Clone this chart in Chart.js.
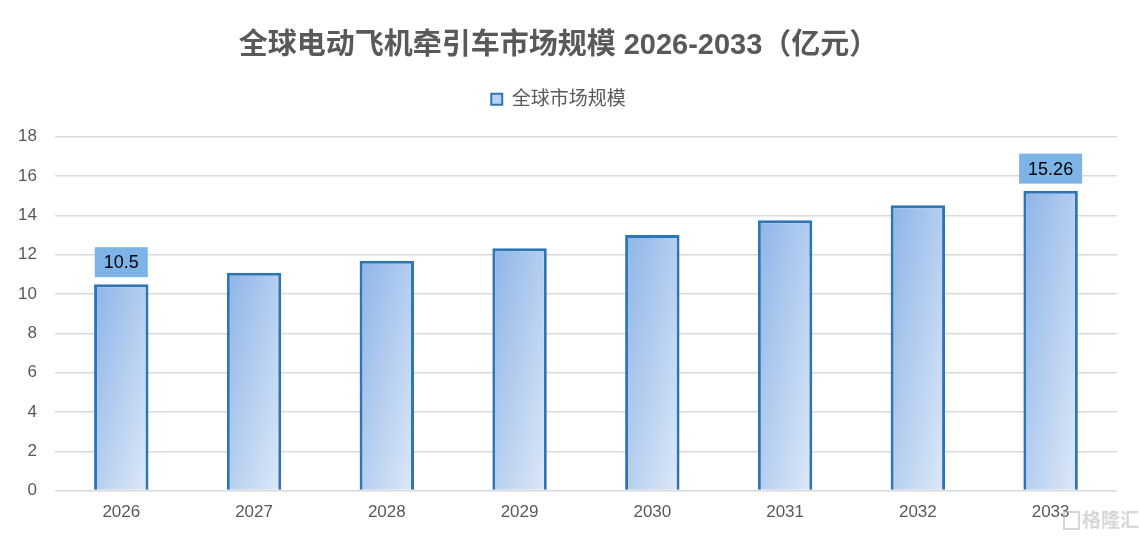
<!DOCTYPE html>
<html>
<head>
<meta charset="utf-8">
<script src="https://cdn.jsdelivr.net/npm/chart.js@4/dist/chart.umd.min.js"></script>
<style>
  html, body { margin: 0; padding: 0; background: #fff; }
  #wrap { width: 1139px; height: 536px; }
</style>
</head>
<body>
<div id="wrap"><canvas id="grafico"></canvas></div>
<script>
const anos = ['2026', '2027', '2028', '2029', '2030', '2031', '2032', '2033'];
const valores = [10.5, 11.08, 11.69, 12.33, 13.01, 13.76, 14.52, 15.26];
const rotulosVisiveis = [0, 7]; // só o primeiro e o último têm rótulo
const titulo = '全球电动飞机牵引车市场规模 2026-2033（亿元）';
const serie = '全球市场规模';

const fonte = "'Liberation Sans', 'Noto Sans CJK SC', sans-serif";

// gradiente diagonal "estilo Excel": isolinhas paralelas à anti-diagonal da barra
function gradienteBarra(context) {
    const chart = context.chart;
    if (!chart.chartArea || context.dataIndex === undefined) return '#A9C7EE';
    const xs = chart.scales.x, ys = chart.scales.y;
    const cx = xs.getPixelForValue(context.dataIndex);
    const larg = xs.getPixelForValue(1) - xs.getPixelForValue(0);
    const w = larg * 0.41;
    const topo = ys.getPixelForValue(valores[context.dataIndex]);
    const h = ys.getPixelForValue(0) - topo;
    const esq = cx - w / 2;
    const k = 2 * w * h / (h * h + w * w);
    const g = chart.ctx.createLinearGradient(esq, topo, esq + h * k, topo + w * k);
    g.addColorStop(0, '#8DB4E8');
    g.addColorStop(1, '#DDE9F8');
    return g;
}

// espaço extra abaixo da legenda
const espacoLegenda = {
    id: 'espacoLegenda',
    beforeInit(chart) {
        const fitOriginal = chart.legend.fit;
        chart.legend.fit = function() {
            fitOriginal.bind(chart.legend)();
            this.height += 18;
        };
    }
};

const rotulos = {
    id: 'rotulos',
    afterDatasetsDraw(chart) {
        const ctx = chart.ctx;
        const meta = chart.getDatasetMeta(0);
        ctx.save();
        ctx.font = "18px 'Liberation Sans', sans-serif";
        rotulosVisiveis.forEach(i => {
            const bar = meta.data[i];
            const txt = String(valores[i]);
            const w = ctx.measureText(txt).width + 18;
            const h = 30;
            const y = bar.y - 7 - h;
            ctx.fillStyle = '#7DB3E6';
            ctx.fillRect(bar.x - w / 2, y, w, h);
            ctx.fillStyle = '#000';
            ctx.textAlign = 'center';
            ctx.textBaseline = 'middle';
            ctx.fillText(txt, bar.x, y + h / 2 + 1);
        });
        // marca d'água
        ctx.font = "bold 19px 'Noto Sans CJK SC', sans-serif";
        ctx.fillStyle = 'rgba(175,175,175,0.5)';
        ctx.textAlign = 'left';
        ctx.textBaseline = 'middle';
        ctx.fillText('格隆汇', 1082, 520);
        ctx.strokeStyle = 'rgba(175,175,175,0.5)';
        ctx.lineWidth = 2;
        ctx.strokeRect(1064, 512, 15, 17);
        ctx.restore();
    }
};

new Chart(document.getElementById('grafico'), {
    type: 'bar',
    data: {
        labels: anos,
        datasets: [{
            label: serie,
            data: valores,
            backgroundColor: gradienteBarra,
            borderColor: '#2E75B6',
            borderWidth: 3,
            categoryPercentage: 1,
            barPercentage: 0.41,
        }],
    },
    options: {
        responsive: true,
        maintainAspectRatio: false,
        animation: false,
        layout: { padding: { left: 0, right: 22, top: 29, bottom: 9 } },
        scales: {
            x: {
                grid: { display: false },
                border: { display: false },
                ticks: { color: '#595959', font: { family: fonte, size: 17 }, padding: 4 },
            },
            y: {
                min: 0,
                max: 18,
                ticks: { stepSize: 2, color: '#595959', font: { family: fonte, size: 17 }, padding: 18 },
                grid: { color: '#D9D9D9', lineWidth: 1.5, drawTicks: false },
                border: { display: false },
            }
        },
        plugins: {
            title: {
                display: true,
                text: titulo,
                color: '#595959',
                font: { family: fonte, size: 29, weight: 'bold' },
                padding: { top: 0, bottom: 14 },
            },
            legend: {
                position: 'top',
                labels: {
                    color: '#595959',
                    font: { family: fonte, size: 19 },
                    boxWidth: 11,
                    boxHeight: 11,
                    padding: 12,
                    generateLabels: function(chart) {
                        return [{
                            text: serie,
                            fillStyle: '#B8D0F2',
                            strokeStyle: '#2E75B6',
                            lineWidth: 2,
                            fontColor: '#595959',
                            datasetIndex: 0,
                        }];
                    }
                }
            },
            tooltip: { enabled: false },
        }
    },
    plugins: [rotulos, espacoLegenda]
});
</script>
</body>
</html>
